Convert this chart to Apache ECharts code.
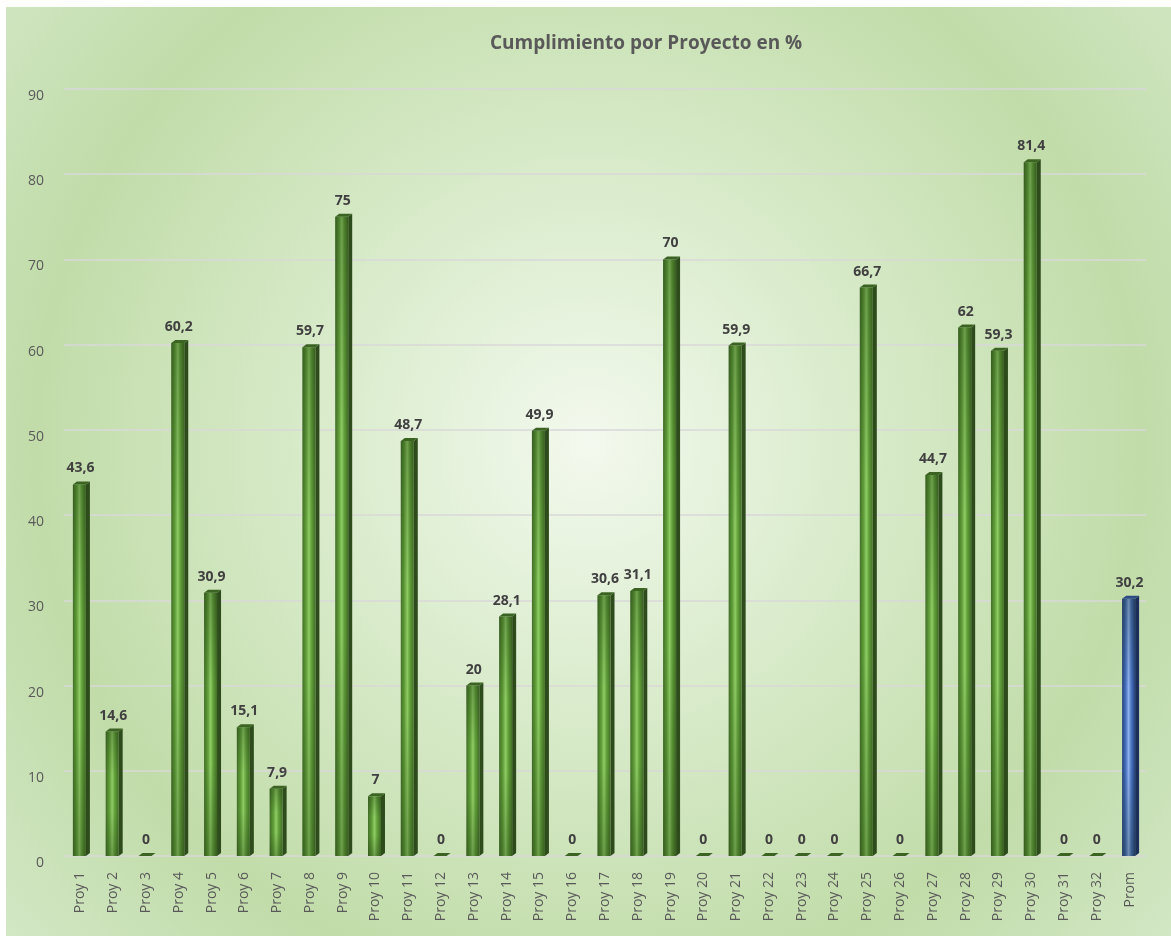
<!DOCTYPE html>
<html>
<head>
<meta charset="utf-8">
<script src="https://cdn.jsdelivr.net/npm/echarts@6/dist/echarts.min.js"></script>
<style>
  html, body { margin: 0; padding: 0; background: #fff; }
  #chart { position: absolute; left: 6px; top: 7px; width: 1165px; height: 929px; }
</style>
</head>
<body>
<div id="chart"></div>
<script>
  // categorias y valores
  var categories = ['Proy 1', 'Proy 2', 'Proy 3', 'Proy 4', 'Proy 5', 'Proy 6', 'Proy 7', 'Proy 8', 'Proy 9', 'Proy 10',
    'Proy 11', 'Proy 12', 'Proy 13', 'Proy 14', 'Proy 15', 'Proy 16', 'Proy 17', 'Proy 18', 'Proy 19', 'Proy 20',
    'Proy 21', 'Proy 22', 'Proy 23', 'Proy 24', 'Proy 25', 'Proy 26', 'Proy 27', 'Proy 28', 'Proy 29', 'Proy 30',
    'Proy 31', 'Proy 32', 'Prom'];
  var values = [43.6, 14.6, 0, 60.2, 30.9, 15.1, 7.9, 59.7, 75, 7,
    48.7, 0, 20, 28.1, 49.9, 0, 30.6, 31.1, 70, 0,
    59.9, 0, 0, 0, 66.7, 0, 44.7, 62, 59.3, 81.4,
    0, 0, 30.2];
  var yTicks = [0, 10, 20, 30, 40, 50, 60, 70, 80, 90];

  var greenFront = new echarts.graphic.LinearGradient(0, 0, 1, 0, [
    {offset: 0, color: '#426f27'},
    {offset: 0.3, color: '#62a03a'},
    {offset: 0.5, color: '#8fcc66'},
    {offset: 0.7, color: '#62a03a'},
    {offset: 1, color: '#426f27'}
  ]);
  var blueFront = new echarts.graphic.LinearGradient(0, 0, 1, 0, [
    {offset: 0, color: '#24417c'},
    {offset: 0.3, color: '#4b74c2'},
    {offset: 0.5, color: '#8fb2ee'},
    {offset: 0.7, color: '#4b74c2'},
    {offset: 1, color: '#24417c'}
  ]);
  // sombra vertical: mas oscuro arriba y abajo
  var shade = new echarts.graphic.LinearGradient(0, 0, 0, 1, [
    {offset: 0, color: 'rgba(20,40,10,0.28)'},
    {offset: 0.35, color: 'rgba(20,40,10,0)'},
    {offset: 0.65, color: 'rgba(20,40,10,0)'},
    {offset: 1, color: 'rgba(20,40,10,0.28)'}
  ]);

  function fmt(v) {
    return String(v).replace('.', ',');
  }

  var chart = echarts.init(document.getElementById('chart'));

  chart.setOption({
    backgroundColor: {
      type: 'radial', x: 0.5, y: 0.47, r: 0.85,
      colorStops: [
        {offset: 0, color: '#f3f9ee'},
        {offset: 0.3, color: '#dcedcf'},
        {offset: 0.7, color: '#c1dca9'},
        {offset: 1, color: '#d4e8c8'}
      ]
    },
    title: {
      text: 'Cumplimiento por Proyecto en %',
      left: 479,
      top: 22,
      textStyle: {
        fontFamily: 'Open Sans',
        fontSize: 19,
        fontWeight: 'bold',
        color: '#595959'
      }
    },
    grid: {
      left: 58,
      right: 25,
      top: 82,
      bottom: 80
    },
    xAxis: {
      type: 'category',
      data: categories,
      axisLine: {show: false},
      axisTick: {show: false},
      axisLabel: {
        rotate: 90,
        interval: 0,
        margin: 16,
        color: '#595959',
        fontFamily: 'Open Sans',
        fontSize: 14
      }
    },
    yAxis: {
      type: 'value',
      min: yTicks[0],
      max: yTicks[yTicks.length - 1],
      interval: 10,
      axisLine: {show: false},
      axisTick: {show: false},
      axisLabel: {
        margin: 20,
        color: '#595959',
        fontFamily: 'Open Sans',
        fontSize: 14,
        verticalAlign: 'top'
      },
      splitLine: {
        lineStyle: {color: '#d9d9d9', width: 1.5}
      }
    },
    series: [{
      type: 'custom',
      data: values.map(function (v, i) { return [i, v]; }),
      renderItem: function (params, api) {
        var top = api.coord([api.value(0), api.value(1)]);
        var base = api.coord([api.value(0), 0]);
        var w = 13, dx = 4, dy = 3;
        var xl = top[0] - w / 2 - 1;
        var xr = xl + w;
        var isProm = params.dataIndex === categories.length - 1;
        var h = base[1] - top[1];
        var children = [];
        if (h > 0.5) {
          children.push({
            type: 'polygon',
            shape: {points: [[xr, top[1]], [xr + dx, top[1] - dy], [xr + dx, base[1] - dy], [xr, base[1]]]},
            style: {fill: isProm ? '#1b2f5a' : '#2d4b1b'}
          });
          children.push({
            type: 'rect',
            shape: {x: xl, y: top[1], width: w, height: h},
            style: {fill: isProm ? blueFront : greenFront}
          });
          children.push({
            type: 'rect',
            shape: {x: xl, y: top[1], width: w, height: h},
            style: {fill: shade}
          });
        }
        children.push({
          type: 'polygon',
          shape: {points: [[xl, top[1]], [xl + dx, top[1] - dy], [xr + dx, top[1] - dy], [xr, top[1]]]},
          style: {fill: isProm ? '#2c4a86' : '#3b6322'}
        });
        children.push({
          type: 'text',
          x: top[0],
          y: top[1] - dy - 6,
          style: {
            text: fmt(api.value(1)),
            align: 'center',
            verticalAlign: 'bottom',
            fill: '#404040',
            fontFamily: 'Open Sans',
            fontSize: 14,
            fontWeight: 'bold'
          }
        });
        return {type: 'group', children: children};
      }
    }]
  });
</script>
</body>
</html>
